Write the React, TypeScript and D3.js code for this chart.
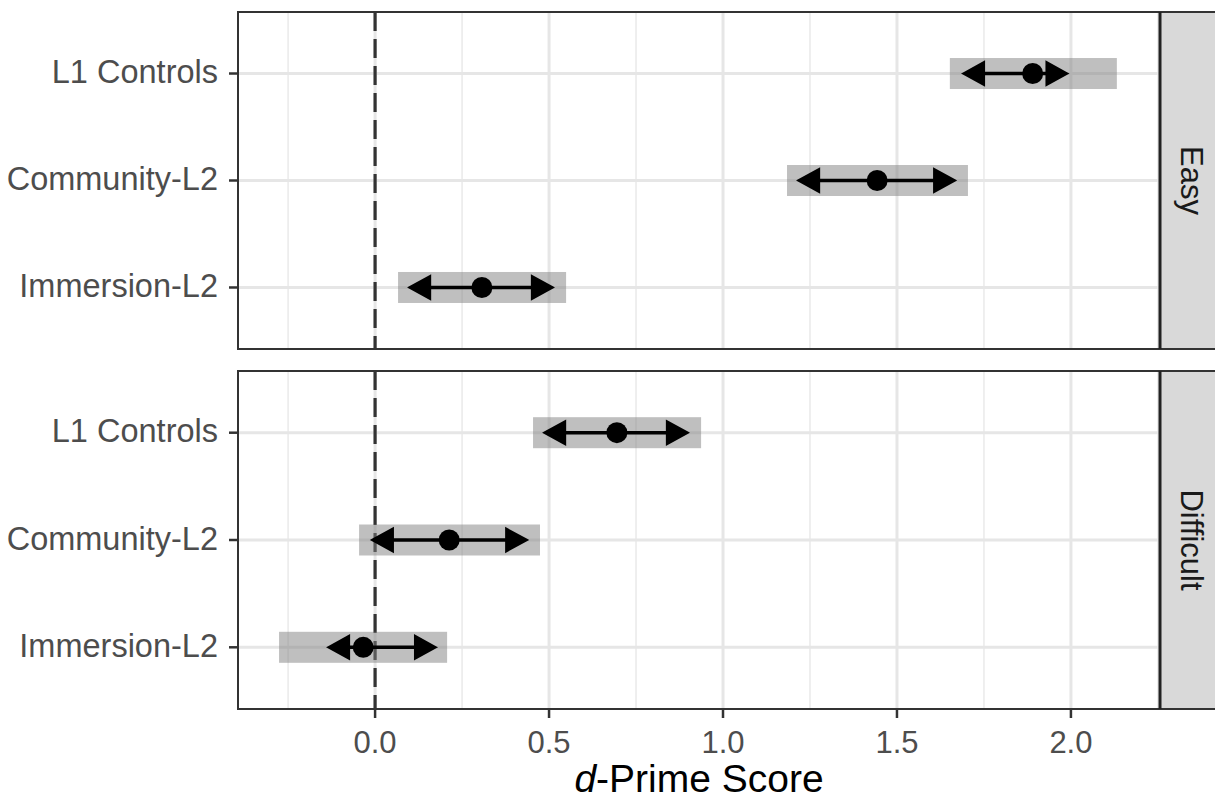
import React, { useRef, useEffect } from 'react';
import * as d3 from 'd3';

// data
const conditions = ['Easy', 'Difficult'];
const groups = ['L1 Controls', 'Community-L2', 'Immersion-L2'];
const easyMean = [1.89, 1.443, 0.307];
const easyArrowLo = [1.69, 1.216, 0.098];
const easyArrowHi = [1.99, 1.667, 0.511];
const easyBandLo = [1.652, 1.184, 0.066];
const easyBandHi = [2.132, 1.704, 0.549];
const difficultMean = [0.695, 0.213, -0.034];
const difficultArrowLo = [0.486, -0.009, -0.135];
const difficultArrowHi = [0.899, 0.437, 0.175];
const difficultBandLo = [0.454, -0.046, -0.276];
const difficultBandHi = [0.937, 0.474, 0.207];
const xTicks = [0, 0.5, 1, 1.5, 2];
const xMinor = [-0.25, 0.25, 0.75, 1.25, 1.75, 2.25];

const W = 1215;
const H = 802;
const FONT = '"Liberation Sans", Arial, sans-serif';

function App() {
  const svgRef = useRef(null);

  useEffect(() => {
    const svg = d3.select(svgRef.current);
    svg.selectAll('*').remove();

    const left = 238;
    const right = 1160;
    const panels = [
      { name: conditions[0], top: 12, bottom: 349, mean: easyMean, alo: easyArrowLo, ahi: easyArrowHi, blo: easyBandLo, bhi: easyBandHi },
      { name: conditions[1], top: 371, bottom: 709, mean: difficultMean, alo: difficultArrowLo, ahi: difficultArrowHi, blo: difficultBandLo, bhi: difficultBandHi },
    ];

    const x = d3.scaleLinear().domain([-0.394, 2.256]).range([left, right]);

    panels.forEach((p) => {
      const y = d3.scalePoint().domain(groups).range([p.top, p.bottom]).padding(0.575);
      const g = svg.append('g');

      g.append('rect')
        .attr('x', left).attr('y', p.top)
        .attr('width', right - left).attr('height', p.bottom - p.top)
        .attr('fill', 'white');

      // grid
      g.selectAll('.minor').data(xMinor).join('line')
        .attr('x1', (d) => x(d)).attr('x2', (d) => x(d))
        .attr('y1', p.top).attr('y2', p.bottom)
        .attr('stroke', '#ebebeb').attr('stroke-width', 1.6);
      g.selectAll('.major').data(xTicks).join('line')
        .attr('x1', (d) => x(d)).attr('x2', (d) => x(d))
        .attr('y1', p.top).attr('y2', p.bottom)
        .attr('stroke', '#e6e6e6').attr('stroke-width', 3);
      g.selectAll('.hgrid').data(groups).join('line')
        .attr('x1', left).attr('x2', right)
        .attr('y1', (d) => y(d)).attr('y2', (d) => y(d))
        .attr('stroke', '#e6e6e6').attr('stroke-width', 3);

      // zero line
      g.append('line')
        .attr('x1', x(0)).attr('x2', x(0))
        .attr('y1', p.top).attr('y2', p.bottom)
        .attr('stroke', '#333').attr('stroke-width', 3.2)
        .attr('stroke-dasharray', '19,8');

      // bands
      g.selectAll('.band').data(groups).join('rect')
        .attr('x', (d, i) => x(p.blo[i]))
        .attr('width', (d, i) => x(p.bhi[i]) - x(p.blo[i]))
        .attr('y', (d) => y(d) - 15.5)
        .attr('height', 31)
        .attr('fill', '#7f7f7f').attr('opacity', 0.5);

      // arrows
      const aLen = 21;
      const aHalf = 11.5;
      groups.forEach((grp, i) => {
        const cy = y(grp);
        const x0 = x(p.alo[i]);
        const x1 = x(p.ahi[i]);
        g.append('line')
          .attr('x1', x0 + 4).attr('x2', x1 - 4)
          .attr('y1', cy).attr('y2', cy)
          .attr('stroke', 'black').attr('stroke-width', 3.5);
        g.append('path')
          .attr('d', `M${x0},${cy}L${x0 + aLen},${cy - aHalf}L${x0 + aLen},${cy + aHalf}Z`)
          .attr('fill', 'black').attr('stroke', 'black').attr('stroke-width', 2);
        g.append('path')
          .attr('d', `M${x1},${cy}L${x1 - aLen},${cy - aHalf}L${x1 - aLen},${cy + aHalf}Z`)
          .attr('fill', 'black').attr('stroke', 'black').attr('stroke-width', 2);
        g.append('circle')
          .attr('cx', x(p.mean[i])).attr('cy', cy).attr('r', 10.5)
          .attr('fill', 'black');
      });

      // panel border
      g.append('rect')
        .attr('x', left).attr('y', p.top)
        .attr('width', right - left).attr('height', p.bottom - p.top)
        .attr('fill', 'none').attr('stroke', '#333').attr('stroke-width', 2);

      // strip
      g.append('rect')
        .attr('x', right).attr('y', p.top)
        .attr('width', 62).attr('height', p.bottom - p.top)
        .attr('fill', '#d9d9d9').attr('stroke', '#333').attr('stroke-width', 2);
      g.append('line')
        .attr('x1', right).attr('x2', right)
        .attr('y1', p.top).attr('y2', p.bottom)
        .attr('stroke', '#222').attr('stroke-width', 3);
      g.append('text')
        .attr('transform', `translate(${right + 30},${(p.top + p.bottom) / 2}) rotate(90)`)
        .attr('text-anchor', 'middle').attr('dy', '0.3em')
        .attr('font-family', FONT).attr('font-size', 31).attr('fill', '#1a1a1a')
        .text(p.name);

      // y axis
      g.selectAll('.ytick').data(groups).join('line')
        .attr('x1', left - 9).attr('x2', left)
        .attr('y1', (d) => y(d)).attr('y2', (d) => y(d))
        .attr('stroke', '#333').attr('stroke-width', 2.5);
      g.selectAll('.ylab').data(groups).join('text')
        .attr('x', left - 20).attr('y', (d) => y(d))
        .attr('dy', '0.3em').attr('text-anchor', 'end')
        .attr('font-family', FONT).attr('font-size', 32.5).attr('fill', '#4d4d4d')
        .text((d) => d);
    });

    // x axis
    const bottom = panels[1].bottom;
    const ax = svg.append('g');
    ax.selectAll('line').data(xTicks).join('line')
      .attr('x1', (d) => x(d)).attr('x2', (d) => x(d))
      .attr('y1', bottom).attr('y2', bottom + 9)
      .attr('stroke', '#333').attr('stroke-width', 2.5);
    ax.selectAll('text').data(xTicks).join('text')
      .attr('x', (d) => x(d)).attr('y', 753)
      .attr('text-anchor', 'middle')
      .attr('font-family', FONT).attr('font-size', 31).attr('fill', '#4d4d4d')
      .text((d) => d3.format('.1f')(d));

    const title = svg.append('text')
      .attr('x', (left + right) / 2).attr('y', 792)
      .attr('text-anchor', 'middle')
      .attr('font-family', FONT).attr('font-size', 39).attr('fill', 'black');
    title.append('tspan').attr('font-style', 'italic').text('d');
    title.append('tspan').text('-Prime Score');
  }, []);

  return (
    <div style={{ position: 'absolute', left: 0, top: 0 }}>
      <svg ref={svgRef} width={W} height={H} style={{ display: 'block', background: 'white' }}></svg>
    </div>
  );
}

export default App;
